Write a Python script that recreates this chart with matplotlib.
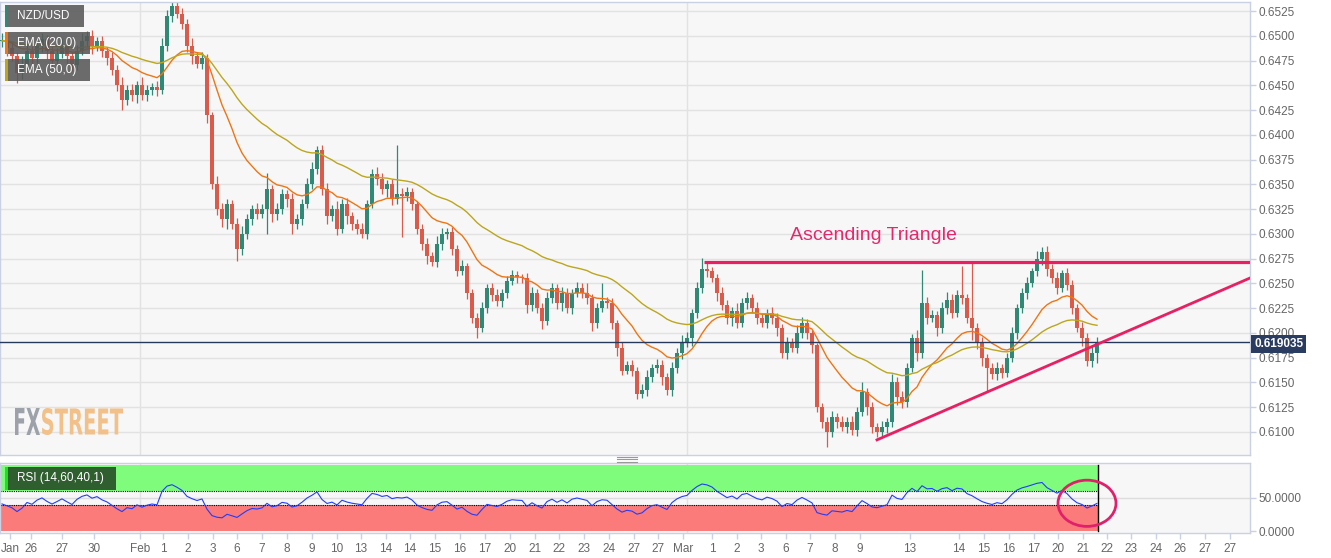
import numpy as np
import pandas as pd
import matplotlib
matplotlib.use("Agg")
import matplotlib.pyplot as plt
from matplotlib.patches import Rectangle, Ellipse, PathPatch
from matplotlib.lines import Line2D
from matplotlib.textpath import TextPath
from matplotlib.font_manager import FontProperties
from matplotlib.transforms import Affine2D, IdentityTransform

plt.rcParams['font.family'] = ['Liberation Sans', 'DejaVu Sans']

# NZD/USD closes, in 1e-4 units (6495 -> 0.6495), one candle every ~4h
closes = [
    6495, 6488, 6480, 6462, 6470, 6485, 6478, 6490, 6497, 6485,
    6475, 6482, 6490, 6480, 6470, 6485, 6495, 6500, 6490, 6495,
    6485, 6478, 6465, 6450, 6435, 6445, 6440, 6450, 6440, 6445,
    6448, 6445, 6490, 6520, 6530, 6522, 6512, 6490, 6480, 6472,
    6478, 6420, 6350, 6325, 6315, 6330, 6310, 6285, 6300, 6315,
    6325, 6320, 6325, 6345, 6320, 6325, 6340, 6335, 6310, 6315,
    6330, 6350, 6365, 6385, 6345, 6318, 6325, 6305, 6330, 6318,
    6310, 6305, 6300, 6330, 6360, 6355, 6345, 6350, 6335, 6340,
    6338, 6342, 6330, 6305, 6290, 6278, 6272, 6290, 6300, 6302,
    6285, 6262, 6268, 6240, 6215, 6205, 6225, 6245, 6238, 6232,
    6240, 6252, 6258, 6256, 6255, 6228, 6240, 6225, 6212, 6235,
    6245, 6230, 6240, 6225, 6240, 6245, 6240, 6235, 6210, 6225,
    6232, 6230, 6210, 6185, 6162, 6168, 6162, 6138, 6142, 6155,
    6165, 6168, 6155, 6142, 6165, 6180, 6190, 6195, 6220, 6245,
    6265, 6262, 6255, 6240, 6228, 6215, 6222, 6210, 6230, 6235,
    6225, 6215, 6210, 6220, 6215, 6205, 6180, 6190, 6185, 6200,
    6210, 6200, 6188, 6125, 6110, 6100, 6115, 6110, 6105, 6110,
    6102, 6120, 6140, 6125, 6105, 6100, 6105, 6110, 6150, 6135,
    6130, 6165, 6195, 6180, 6230, 6215, 6218, 6205, 6225, 6233,
    6220, 6238, 6235, 6215, 6205, 6190, 6175, 6165, 6158, 6165,
    6160, 6175, 6200, 6225, 6240, 6250, 6262, 6275, 6282, 6265,
    6255, 6245, 6260, 6248, 6225, 6205, 6195, 6172, 6180, 6190,
]
# wick length above / below the body, same units
wick_up = [
    8, 5, 6, 4, 10, 6, 5, 8, 6, 4,
    5, 6, 8, 5, 4, 6, 8, 5, 6, 4,
    5, 4, 6, 5, 8, 5, 6, 4, 8, 5,
    4, 6, 8, 6, 5, 10, 6, 5, 8, 4,
    6, 4, 3, 8, 6, 5, 4, 6, 8, 5,
    4, 6, 5, 16, 4, 6, 5, 4, 6, 5,
    5, 6, 8, 4, 5, 6, 4, 8, 5, 6,
    4, 5, 6, 4, 5, 8, 6, 4, 5, 50,
    6, 5, 4, 3, 5, 6, 4, 8, 6, 4,
    5, 4, 6, 3, 4, 5, 6, 4, 5, 6,
    4, 5, 6, 4, 3, 5, 6, 4, 5, 6,
    5, 4, 6, 5, 4, 6, 5, 10, 4, 5,
    18, 4, 5, 3, 6, 4, 5, 4, 6, 8,
    4, 6, 5, 4, 6, 5, 8, 6, 4, 6,
    11, 6, 5, 4, 6, 5, 4, 8, 5, 6,
    4, 6, 5, 4, 6, 5, 4, 6, 5, 8,
    6, 4, 3, 2, 4, 5, 6, 4, 6, 5,
    6, 5, 10, 4, 5, 4, 6, 4, 8, 5,
    6, 5, 4, 8, 34, 6, 5, 4, 6, 8,
    6, 5, 30, 4, 57, 5, 6, 4, 5, 6,
    4, 5, 6, 4, 5, 6, 4, 8, 5, 6,
    5, 6, 4, 6, 5, 4, 6, 5, 8, 6,
]
wick_dn = [
    6, 8, 5, 10, 6, 4, 8, 5, 6, 8,
    6, 5, 4, 8, 6, 5, 4, 6, 8, 5,
    6, 8, 5, 6, 10, 5, 6, 8, 5, 6,
    5, 6, 4, 5, 6, 4, 5, 6, 8, 5,
    6, 8, 5, 6, 8, 10, 5, 12, 6, 5,
    6, 5, 4, 25, 8, 6, 5, 8, 10, 5,
    6, 4, 5, 5, 6, 8, 5, 6, 4, 8,
    6, 5, 4, 5, 4, 6, 5, 8, 6, 5,
    41, 5, 6, 5, 6, 8, 4, 5, 6, 5,
    6, 5, 4, 6, 5, 10, 4, 5, 6, 5,
    6, 5, 4, 6, 5, 8, 6, 5, 8, 4,
    5, 6, 8, 5, 6, 4, 5, 6, 8, 5,
    4, 5, 6, 8, 5, 4, 6, 5, 4, 6,
    5, 6, 8, 5, 6, 5, 6, 4, 8, 5,
    5, 6, 4, 8, 5, 6, 8, 5, 4, 6,
    5, 6, 4, 5, 6, 8, 5, 6, 4, 5,
    5, 6, 8, 5, 6, 15, 5, 6, 4, 6,
    5, 6, 4, 8, 6, 5, 4, 6, 5, 8,
    6, 5, 4, 8, 5, 6, 4, 8, 5, 6,
    5, 4, 6, 5, 12, 6, 8, 25, 5, 6,
    6, 5, 4, 6, 5, 6, 4, 5, 6, 8,
    5, 6, 4, 5, 6, 4, 8, 5, 6, 10,
]
last_price = 0.619035

# x-axis labels (positions in candle units)
tick_pos = [1.6, 5.8, 12, 18.4, 27.6, 32.2, 37.2, 42.2, 47, 52, 57, 62, 67, 71.8,
            76.8, 81.6, 86.6, 91.6, 96.6, 101.6, 106.6, 111.4, 116.4, 121.4, 126.4,
            131.2, 136.2, 142, 147, 151.8, 156.8, 161.6, 166.6, 171.6, 181.6, 191.4,
            196.4, 201.4, 206.4, 211.2, 216.2, 221, 225.8, 230.8, 235.6, 240.6, 245.6]
tick_labels = ['Jan', '26', '27', '30', 'Feb', '1', '2', '3', '6', '7', '8', '9', '10', '13',
               '14', '14', '15', '16', '17', '20', '21', '22', '23', '24', '27',
               '27', 'Mar', '1', '2', '3', '6', '7', '8', '9', '13', '14',
               '15', '16', '17', '20', '21', '22', '23', '24', '26', '27', '27']
month_lines = [27.5, 136.9]

# hand drawn pattern
resist_x = [140.4, 249.6]
resist_y = [0.62716, 0.62716]
support_x = [175.0, 249.6]
support_y = [0.6092, 0.62554]

W, H = 1331, 558
fig = plt.figure(figsize=(W / 100, H / 100), dpi=100)
fig.patch.set_facecolor('white')


def fx(x):
    return x / W


def fy(y):
    return 1 - y / H


ax = fig.add_axes([0, fy(455), fx(1250), (455 - 2) / H])
ax2 = fig.add_axes([0, fy(533), fx(1250), (533 - 463) / H], sharex=ax)

c = np.array(closes) / 10000.0
o = np.r_[c[0], c[:-1]]
hi = np.maximum(o, c) + np.array(wick_up) / 10000.0
lo = np.minimum(o, c) - np.array(wick_dn) / 10000.0
idx = np.arange(len(c))

UP, DN = '#2e8a74', '#dc5a4a'
for ax_ in (ax, ax2):
    ax_.set_facecolor('#f7f7f7')
    for s in ax_.spines.values():
        s.set_color('#c9d1e3')
        s.set_linewidth(1)

yt = np.arange(0.6100, 0.65251, 0.0025)
for v in yt:
    ax.axhline(v, color='#e2e2e2', lw=1, zorder=0)
for m in month_lines:
    ax.axvline(m, color='#e2e2e2', lw=1, zorder=0)
    ax2.axvline(m, color='#e2e2e2', lw=1, zorder=0)

for i in idx:
    col = UP if c[i] >= o[i] else DN
    ax.vlines(i, lo[i], hi[i], color=col, lw=0.9, zorder=2)
    b0 = min(o[i], c[i])
    bh = max(abs(c[i] - o[i]), 0.00004)
    ax.add_patch(Rectangle((i - 0.33, b0), 0.66, bh, color=col, lw=0, zorder=3))

# EMAs on ~5px candles, span rescaled to match 4h spacing on the original
k = 4.1 / 5
ema20 = pd.Series(c).ewm(span=20 * k, adjust=False).mean()
ema50 = pd.Series(c).ewm(span=50 * k, adjust=False).mean()
ax.plot(idx, ema20, color='#f07412', lw=1, zorder=4)
ax.plot(idx, ema50, color='#bca61c', lw=1, zorder=4)

ax.plot(resist_x, resist_y, color='#e91e63', lw=2.3, zorder=5, solid_capstyle='butt')
ax.plot(support_x, support_y, color='#e91e63', lw=2.0, zorder=5)
ax.text(174.2, 0.6298, 'Ascending Triangle', color='#e8266d', fontsize=14,
        ha='center', va='center', zorder=6)

ax.axhline(last_price, color='#27395a', lw=1, zorder=4)

ax.set_xlim(-0.4, 249.6)
ax.set_ylim(0.60767, 0.65341)
ax.yaxis.tick_right()
ax.set_yticks(yt)
ax.set_yticklabels(['%.4f' % v for v in yt])
ax.tick_params(axis='y', colors='#c9d1e3', labelcolor='#666666', labelsize=8.5,
               length=4, width=1, pad=2)
ax.tick_params(axis='x', bottom=False, labelbottom=False)

ax.annotate('%.6f' % last_price, xy=(1.0, last_price), xycoords=('axes fraction', 'data'),
            xytext=(3, -1), textcoords='offset points', ha='left', va='center',
            color='white', fontsize=8.5, fontweight='bold', zorder=10, annotation_clip=False,
            bbox=dict(boxstyle='square,pad=0.25', fc='#2a3d60', ec='none'))

# RSI, Wilder smoothing seeded with the mean of the first period
rsi_n = 14 * k
d = np.diff(c, prepend=c[0])
g = np.clip(d, 0, None)
l = np.clip(-d, 0, None)
ag, al = g[1:15].mean(), l[1:15].mean()
rsi = []
for i in idx:
    ag = (ag * (rsi_n - 1) + g[i]) / rsi_n
    al = (al * (rsi_n - 1) + l[i]) / rsi_n
    rsi.append(100 - 100 / (1 + ag / al) if al > 0 else 100)

xe = len(c) - 0.8
ax2.axhline(50, color='#dddddd', lw=1, zorder=0)
ax2.fill_between([-0.4, xe], 60, 100, color='#80fc7c', lw=0, zorder=1)
ax2.fill_between([-0.4, xe], 0, 40, color='#fb7b7b', lw=0, zorder=1)
ax2.plot([-0.4, xe], [60, 60], color='black', lw=0.8, ls=(0, (1, 1)), zorder=2)
ax2.plot([-0.4, xe], [40, 40], color='black', lw=0.8, ls=(0, (1, 1)), zorder=2)
ax2.plot([xe, xe], [0, 100], color='black', lw=1, zorder=2)
ax2.plot(idx, rsi, color='#1f3dff', lw=0.8, zorder=3)
ax2.add_patch(Ellipse((217, 42), 11.6, 70, fill=False, ec='#e0206a', lw=2, clip_on=False, zorder=6))
ax2.set_ylim(-3, 103)
ax2.yaxis.tick_right()
ax2.set_yticks([0, 50])
ax2.set_yticklabels(['0.0000', '50.0000'])
ax2.tick_params(axis='y', colors='#c9d1e3', labelcolor='#666666', labelsize=8.5,
                length=4, width=1, pad=2)
ax2.set_xticks(tick_pos)
ax2.set_xticklabels(tick_labels)
ax2.tick_params(axis='x', colors='#c9d1e3', labelcolor='#666666', labelsize=8.5,
                length=4, width=1, pad=3)


def label_box(x0, y0, x1, y1, fc, stripe, text, alpha=0.88):
    fig.patches.append(Rectangle((fx(x0), fy(y1)), fx(x1 - x0), (y1 - y0) / H,
                                 transform=fig.transFigure, fc=fc, ec='none', alpha=alpha, zorder=20))
    fig.patches.append(Rectangle((fx(x0), fy(y1)), fx(3), (y1 - y0) / H,
                                 transform=fig.transFigure, fc=stripe, ec='none', zorder=21))
    fig.text(fx(x0 + 12), fy((y0 + y1) / 2), text, color='white', fontsize=8.5,
             ha='left', va='center', zorder=22)


label_box(5, 5, 84, 27, '#585858', '#2e8a74', 'NZD/USD')
label_box(5, 32, 90, 54, '#585858', '#f07412', 'EMA (20,0)')
label_box(5, 59, 90, 81, '#585858', '#bca61c', 'EMA (50,0)')
label_box(5, 467, 116, 490, '#2f5e2f', '#1fe01f', 'RSI (14,60,40,1)', alpha=1)


# condensed FXSTREET watermark, squeezed to its box in pixels
def logo(text, x0, x1, y0, y1, color):
    fp = FontProperties(family='DejaVu Sans', weight='bold')
    p = TextPath((0, 0), text, size=40, prop=fp)
    b = p.get_extents()
    tr = (Affine2D().translate(-b.x0, -b.y0)
          .scale((x1 - x0) / b.width, (y1 - y0) / b.height)
          .translate(x0, H - y1))
    fig.add_artist(PathPatch(p, transform=tr + IdentityTransform(), fc=color, ec='none', zorder=1))


logo('FX', 15, 40, 408, 435, '#9ca1aa')
logo('STREET', 42, 123, 408, 435, '#f2c18a')

for yy in (456.5, 459, 461.5):
    fig.add_artist(Line2D([fx(617), fx(637)], [fy(yy), fy(yy)], color='#999999', lw=0.8))

fig.savefig('out.png', dpi=100)
